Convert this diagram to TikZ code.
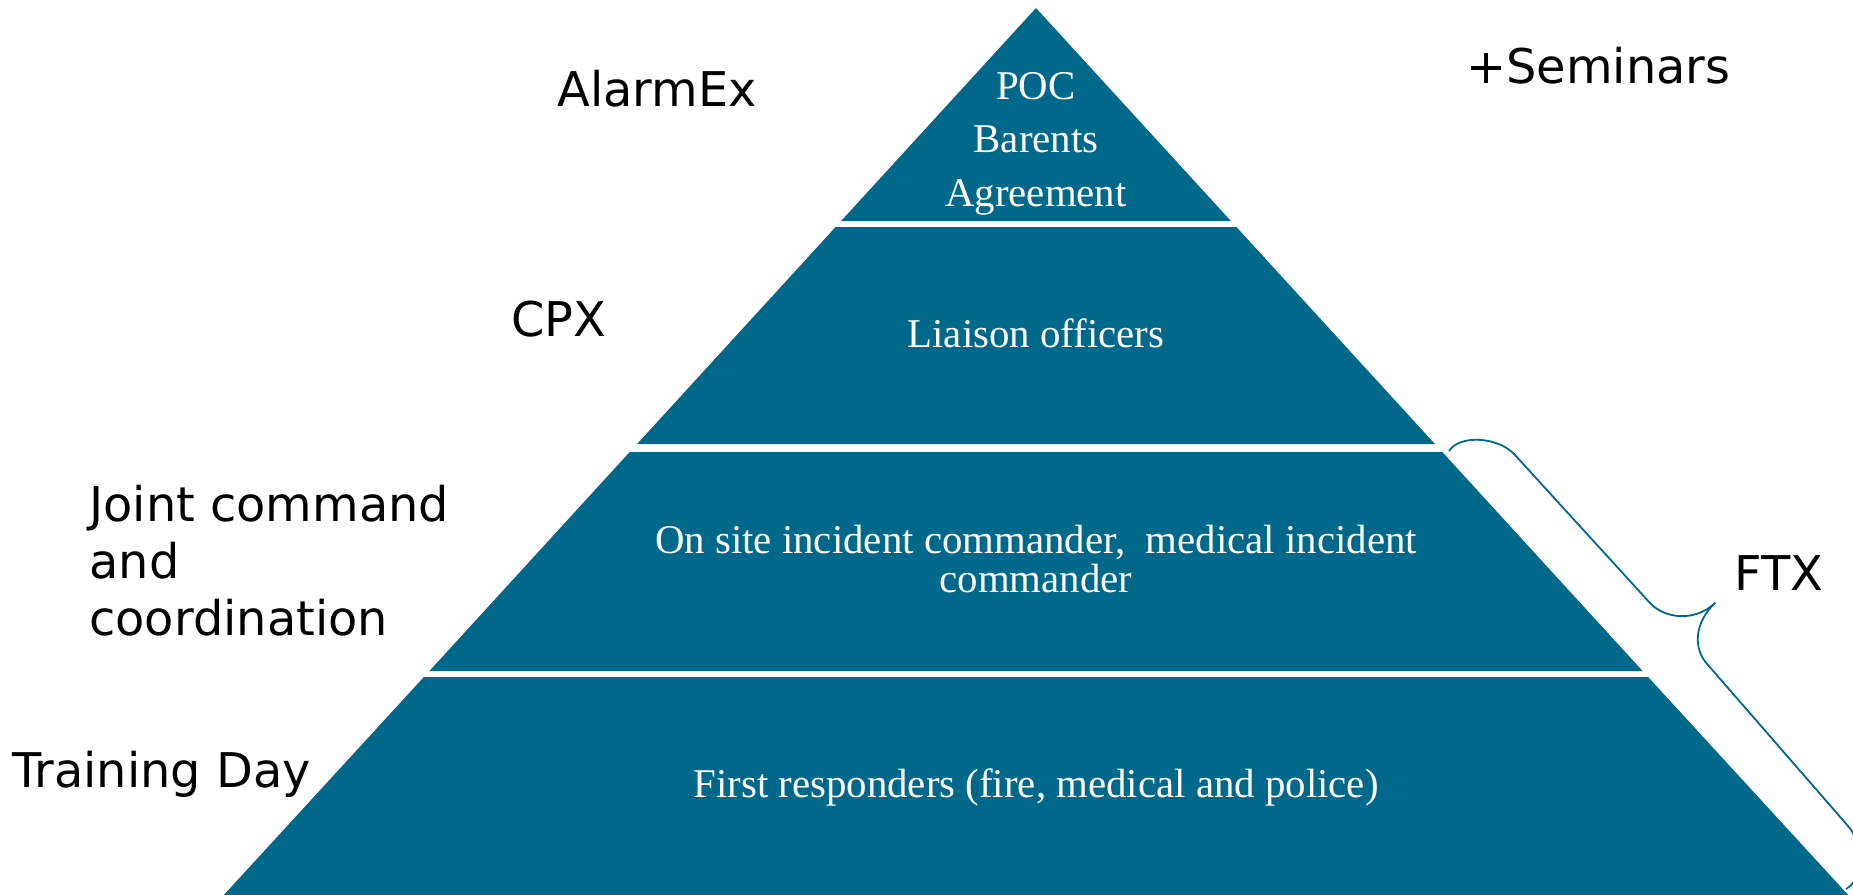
\documentclass[tikz,border=0pt]{standalone}
\usepackage{fontspec}
\setmainfont{Liberation Serif}
\newfontfamily\labelfont{DejaVu Sans}
\definecolor{pyr}{RGB}{0,105,139}
\begin{document}
\begin{tikzpicture}[x=0.5bp,y=-0.5bp,
  layer/.style={fill=pyr,draw=none},
  intext/.style={text=white,align=center,inner sep=0pt},
  lab/.style={font=\labelfont\fontsize{24}{28.5}\selectfont,inner sep=0pt,text=black},
  bracestyle/.style={draw=pyr,line width=0.9pt,line join=round}]
\useasboundingbox (0,0) rectangle (1853,895);
\clip (0,0) rectangle (1853,895);
% pyramid layers
\path[layer] (1036,8) -- (1230.9,221) -- (841.1,221) -- cycle;
\path[layer] (835.6,227) -- (1236.4,227) -- (1434.9,444) -- (637.1,444) -- cycle;
\path[layer] (629.7,452) -- (1442.3,452) -- (1642.6,671) -- (429.4,671) -- cycle;
\path[layer] (423.9,677) -- (1648.1,677) -- (1850,897) -- (222,897) -- cycle;
% texts inside
\node[intext,font=\fontsize{20.5}{26.75}\selectfont,anchor=north] (poc) at (1036,72) {POC\\Barents\\Agreement};
\node[intext,font=\fontsize{20.5}{24}\selectfont,anchor=base] (lia) at (1036,347) {Liaison officers};
\node[intext,font=\fontsize{20.5}{19.5}\selectfont,anchor=north] (osc) at (1036,525) {On site incident commander,\ \ medical incident\\commander};
\node[intext,font=\fontsize{20.5}{24}\selectfont,anchor=base] (fr) at (1036,797) {First responders (fire, medical and police)};
% labels
\node[lab,anchor=base west] (alarm) at (557,106) {AlarmEx};
\node[lab,anchor=base west] (sem) at (1466,83) {+Seminars};
\node[lab,anchor=base west] (cpx) at (511,336) {CPX};
\node[lab,anchor=north west,align=left] (joint) at (89,485) {Joint command\\and\\coordination};
\node[lab,anchor=base west] (train) at (12,787) {Training Day};
\node[lab,anchor=base west] (ftx) at (1734,590) {FTX};
% brace
\draw[bracestyle] (1449,451) .. controls (1460,434) and (1499,437) .. (1515,455)
  -- (1650,603) .. controls (1665,619) and (1695,622) .. (1715,603)
  .. controls (1695,622) and (1692,648) .. (1708,665)
  -- (1848,826) .. controls (1864,844) and (1864,879) .. (1846,889);
\end{tikzpicture}
\end{document}
